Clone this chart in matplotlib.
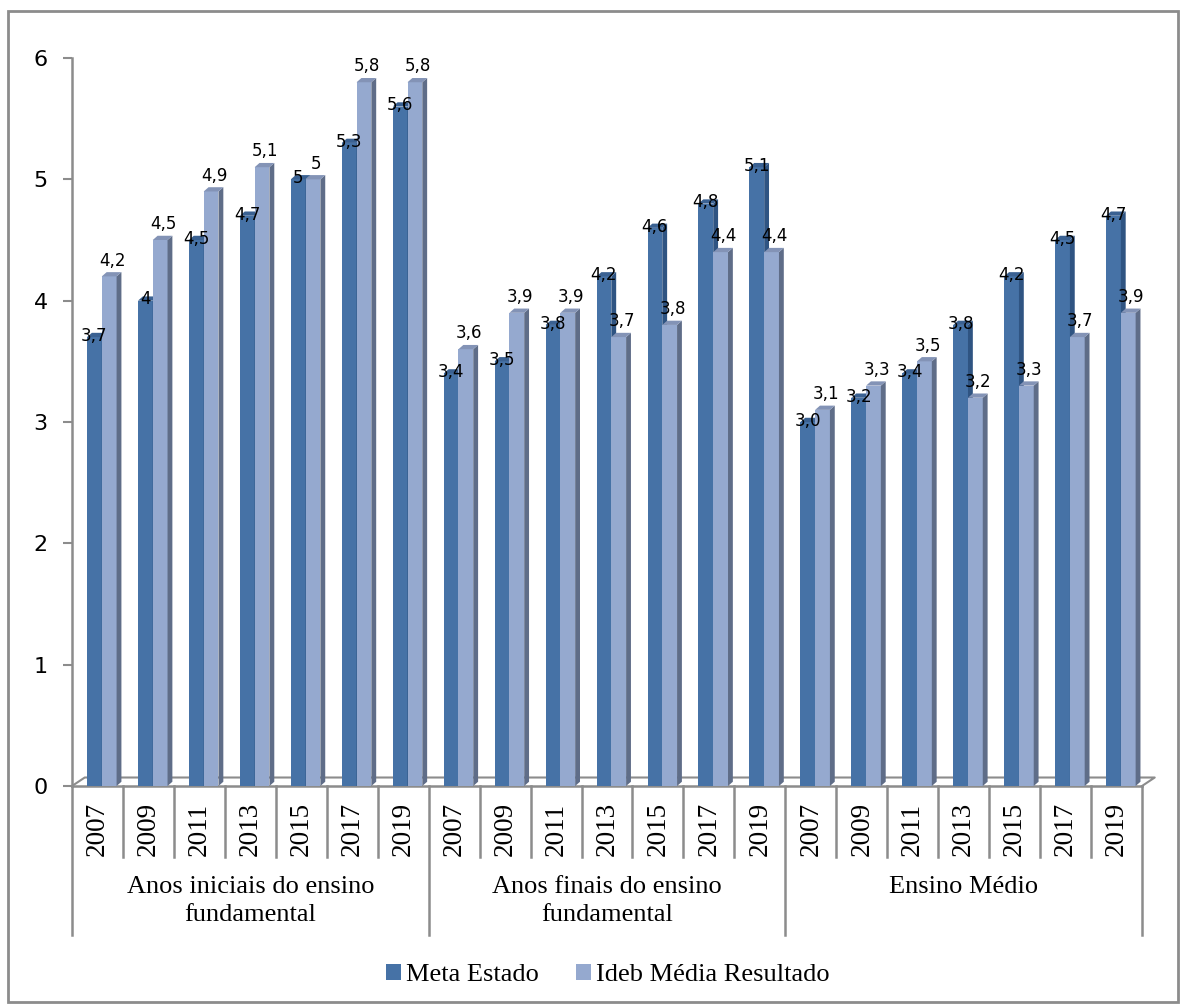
import numpy as np
import matplotlib.pyplot as plt
from matplotlib.patches import Polygon, Rectangle, Patch

# dados
grupos = ["Anos iniciais do ensino\nfundamental", "Anos finais do ensino\nfundamental", "Ensino Médio"]
anos = ["2007", "2009", "2011", "2013", "2015", "2017", "2019"]
meta_estado = [3.7, 4.0, 4.5, 4.7, 5.0, 5.3, 5.6,
               3.4, 3.5, 3.8, 4.2, 4.6, 4.8, 5.1,
               3.0, 3.2, 3.4, 3.8, 4.2, 4.5, 4.7]
ideb_resultado = [4.2, 4.5, 4.9, 5.1, 5.0, 5.8, 5.8,
                  3.6, 3.9, 3.9, 3.7, 3.8, 4.4, 4.4,
                  3.1, 3.3, 3.5, 3.2, 3.3, 3.7, 3.9]
rotulos_meta = ["3,7", "4", "4,5", "4,7", "5", "5,3", "5,6",
                "3,4", "3,5", "3,8", "4,2", "4,6", "4,8", "5,1",
                "3,0", "3,2", "3,4", "3,8", "4,2", "4,5", "4,7"]
rotulos_ideb = ["4,2", "4,5", "4,9", "5,1", "5", "5,8", "5,8",
                "3,6", "3,9", "3,9", "3,7", "3,8", "4,4", "4,4",
                "3,1", "3,3", "3,5", "3,2", "3,3", "3,7", "3,9"]
series = ["Meta Estado", "Ideb Média Resultado"]

cor_meta = ("#4672A6", "#2F5482", "#3A6192")   # frente, lado, topo
cor_ideb = ("#95A9CF", "#5F6D88", "#8393B6")
cinza = "#8C8C8C"
serif = ["Liberation Serif", "DejaVu Serif"]

largura = 0.29
dx, dy = 0.095, 0.035   # profundidade do efeito 3d


def barra3d(ax, xc, v, cores):
    x0, x1 = xc - largura / 2, xc + largura / 2
    ax.add_patch(Rectangle((x0, 0), largura, v, facecolor=cores[0], edgecolor="none", zorder=3))
    ax.add_patch(Polygon([(x1, 0), (x1 + dx, dy), (x1 + dx, v + dy), (x1, v)],
                         closed=True, facecolor=cores[1], edgecolor="none", zorder=3))
    ax.add_patch(Polygon([(x0, v), (x0 + dx, v + dy), (x1 + dx, v + dy), (x1, v)],
                         closed=True, facecolor=cores[2], edgecolor="none", zorder=3))


fig = plt.figure(figsize=(11.85, 10.06), dpi=100)
ax = fig.add_axes([72 / 1185, 1 - 786 / 1006, 1070 / 1185, 728 / 1006])

n = len(meta_estado)
x = np.arange(n)
for i in range(n):
    barra3d(ax, x[i] - 0.06, meta_estado[i], cor_meta)
    barra3d(ax, x[i] + 0.23, ideb_resultado[i], cor_ideb)
    ax.text(x[i] - 0.06, meta_estado[i] + 0.01, rotulos_meta[i], ha="center", va="center",
            fontsize=12, color="black", zorder=5)
    ax.text(x[i] + 0.29, ideb_resultado[i] + 0.13, rotulos_ideb[i], ha="center", va="center",
            fontsize=12, color="black", zorder=5)

ax.set_xlim(-0.5, n - 0.5)
ax.set_ylim(0, 6)
ax.set_yticks(range(7))
ax.tick_params(axis="y", direction="out", length=6.5, width=1.5, color=cinza,
               labelsize=16, pad=11)
ax.set_xticks([])
for s in ["top", "right"]:
    ax.spines[s].set_visible(False)
ax.spines["left"].set_color(cinza)
ax.spines["left"].set_linewidth(1.8)
ax.spines["bottom"].set_color(cinza)
ax.spines["bottom"].set_linewidth(1.8)

# piso 3d
dxf, dyf = 0.25, 0.07
ax.plot([-0.5, -0.5 + dxf, n - 0.5 + dxf, n - 0.5], [0, dyf, dyf, 0],
        color=cinza, lw=1.5, clip_on=False, zorder=2)

# eixo de categorias em dois niveis
tr = ax.get_xaxis_transform()
for k in range(n + 1):
    fundo = -0.205 if k % len(anos) == 0 else -0.098
    ax.plot([k - 0.5, k - 0.5], [0, fundo], color=cinza, lw=1.8, transform=tr, clip_on=False)
for i in range(n):
    ax.text(x[i], -0.059, anos[i % len(anos)], rotation=90, ha="center", va="center",
            fontsize=19.5, family=serif, transform=tr)
for g, nome in enumerate(grupos):
    centro = g * len(anos) + (len(anos) - 1) / 2
    ax.text(centro, -0.124, nome, ha="center", va="top", fontsize=19, family=serif,
            linespacing=1.35, transform=tr)

# legenda
alcas = [Patch(facecolor=cor_meta[0]), Patch(facecolor=cor_ideb[0])]
fig.legend(alcas, series, loc="center", bbox_to_anchor=(0.513, 1 - 975 / 1006), ncol=2,
           frameon=False, prop={"family": serif, "size": 19}, handlelength=0.55,
           handleheight=0.55, handletextpad=0.2, columnspacing=1.4)

# moldura
fig.add_artist(Rectangle((8 / 1185, 4 / 1006), 1170 / 1185, 991 / 1006, transform=fig.transFigure,
                         fill=False, edgecolor=cinza, lw=2))

fig.savefig("out.png", dpi=100)
